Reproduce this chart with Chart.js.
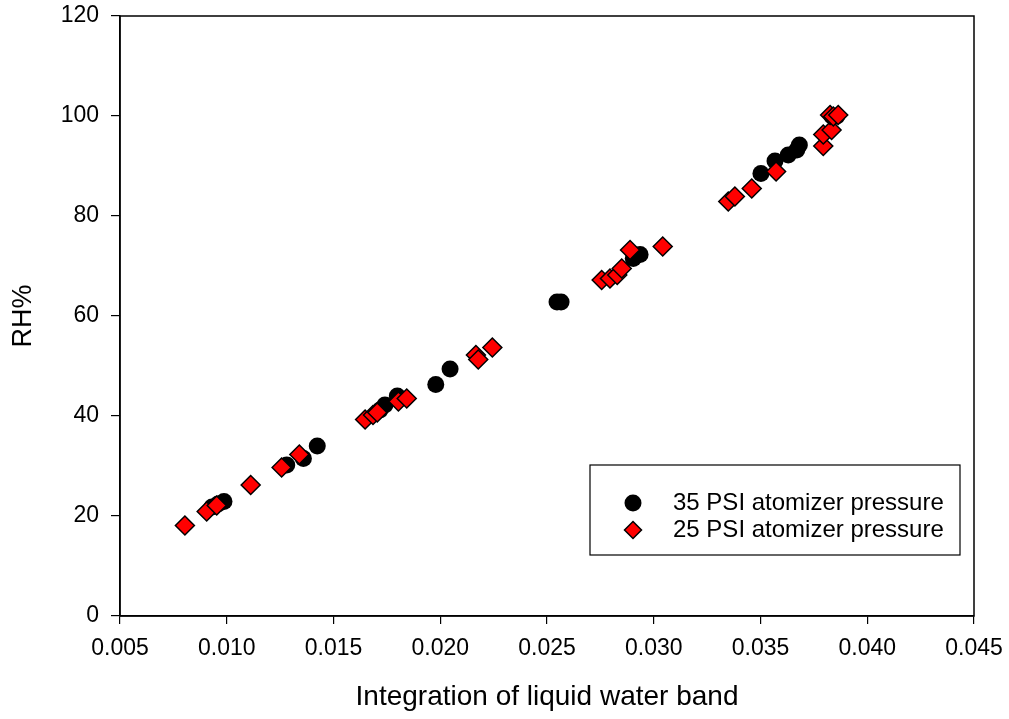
<!DOCTYPE html>
<html>
<head>
<meta charset="utf-8">
<script src="https://cdn.jsdelivr.net/npm/chart.js@4/dist/chart.umd.min.js"></script>
<style>
  html, body { margin: 0; padding: 0; background: #fff; }
  #wrap { width: 1009px; height: 719px; }
</style>
</head>
<body>
<div id="wrap"><canvas id="c" width="1009" height="719"></canvas></div>
<script>
// ---- Data ----
const seriesNames = ["35 PSI atomizer pressure", "25 PSI atomizer pressure"];

const psi35X = [0.00931, 0.00959, 0.00987, 0.01281, 0.01359, 0.01424, 0.01718, 0.01741, 0.01799,
                0.01979, 0.02046, 0.02547, 0.02566, 0.02904, 0.02936, 0.03502, 0.03568, 0.03630,
                0.03670, 0.03682, 0.03834, 0.03858];
const psi35Y = [21.8, 22.4, 22.9, 30.2, 31.5, 34.0, 41.2, 42.2, 44.0,
                46.3, 49.4, 62.8, 62.8, 71.5, 72.3, 88.5, 91.0, 92.2,
                93.2, 94.2, 100.0, 100.0];

const psi25X = [0.00804, 0.00906, 0.00953, 0.01112, 0.01257, 0.01340, 0.01648, 0.01685, 0.01705,
                0.01804, 0.01843, 0.02167, 0.02178, 0.02244, 0.02756, 0.02795, 0.02829, 0.02850,
                0.02889, 0.03042, 0.03349, 0.03380, 0.03459, 0.03573, 0.03794, 0.03794, 0.03833,
                0.03826, 0.03841, 0.03864];
const psi25Y = [18.1, 20.9, 22.1, 26.2, 29.7, 32.3, 39.3, 40.2, 40.7,
                42.9, 43.5, 52.2, 51.3, 53.7, 67.2, 67.5, 68.2, 69.5,
                73.2, 73.9, 82.9, 83.9, 85.5, 88.9, 94.0, 96.3, 97.2,
                100.2, 99.9, 100.2];

const xTickValues = [0.005, 0.010, 0.015, 0.020, 0.025, 0.030, 0.035, 0.040, 0.045];
const yTickValues = [0, 20, 40, 60, 80, 100, 120];
const xTitle = "Integration of liquid water band";
const yTitle = "RH%";

// ---- Build ----
const toPts = (xs, ys) => xs.map((x, i) => ({ x: x, y: ys[i] }));
const FONT = '"Liberation Sans", Arial, Helvetica, sans-serif';
Chart.defaults.font.family = FONT;
Chart.defaults.color = '#000';

function drawMarker(ctx, style, x, y, r, fill, stroke, bw) {
  ctx.save();
  ctx.beginPath();
  if (style === 'circle') {
    ctx.arc(x, y, r, 0, Math.PI * 2);
  } else {
    ctx.moveTo(x, y - r); ctx.lineTo(x + r, y); ctx.lineTo(x, y + r); ctx.lineTo(x - r, y); ctx.closePath();
  }
  ctx.fillStyle = fill; ctx.fill();
  if (bw > 0) { ctx.lineWidth = bw; ctx.strokeStyle = stroke; ctx.stroke(); }
  ctx.restore();
}

const framePlugin = {
  id: 'frame',
  afterDraw(chart) {
    const { ctx, chartArea: a } = chart;
    ctx.save();
    ctx.strokeStyle = '#000';
    ctx.lineWidth = 1.5;
    ctx.strokeRect(a.left, a.top, a.right - a.left, a.bottom - a.top);
    // legend box
    const bx = a.left + 470, by = a.top + 449, bw = 370, bh = 90;
    ctx.lineWidth = 1.2;
    ctx.fillStyle = '#fff';
    ctx.fillRect(bx, by, bw, bh);
    ctx.strokeRect(bx, by, bw, bh);
    const ds = chart.data.datasets;
    [0, 1].forEach((k, i) => {
      const d = ds[k];
      const cy = by + 38 + i * 27;
      drawMarker(ctx, d.pointStyle, bx + 43, cy, 8.5, d.backgroundColor, d.borderColor, d.borderWidth);
      ctx.fillStyle = '#000';
      ctx.font = '24px ' + FONT;
      ctx.textBaseline = 'middle';
      ctx.textAlign = 'left';
      ctx.fillText(d.label, bx + 83, cy);
    });
    ctx.restore();
  }
};

new Chart(document.getElementById('c'), {
  type: 'scatter',
  data: {
    datasets: [
      {
        label: seriesNames[0],
        data: toPts(psi35X, psi35Y),
        pointStyle: 'circle',
        pointRadius: 8.5,
        pointHoverRadius: 8.5,
        backgroundColor: '#000000',
        borderColor: '#000000',
        borderWidth: 0,
        order: 2
      },
      {
        label: seriesNames[1],
        data: toPts(psi25X, psi25Y),
        pointStyle: 'rectRot',
        pointRadius: 9.5,
        pointHoverRadius: 9.5,
        backgroundColor: '#ff0000',
        borderColor: '#000000',
        borderWidth: 1.5,
        order: 1
      }
    ]
  },
  options: {
    responsive: false,
    animation: false,
    devicePixelRatio: 1,
    layout: { padding: { top: 16, right: 35, left: 0, bottom: 0 } },
    plugins: {
      legend: { display: false },
      tooltip: { enabled: false }
    },
    scales: {
      x: {
        type: 'linear',
        min: 0.005, max: 0.045,
        afterBuildTicks: (s) => { s.ticks = xTickValues.map(v => ({ value: v })); },
        afterFit: (s) => { s.height = 103; s.paddingLeft = 0; s.paddingRight = 0; },
        ticks: {
          font: { size: 23 },
          color: '#000',
          padding: 11,
          maxRotation: 0,
          callback: (v) => Number(v).toFixed(3)
        },
        grid: { display: true, drawOnChartArea: false, drawTicks: true, tickLength: 8, color: '#000', lineWidth: 1.2 },
        border: { display: true, color: '#000', width: 1.5 },
        title: { display: true, text: xTitle, font: { size: 28 }, color: '#000', padding: { top: 0, bottom: 5 } }
      },
      y: {
        type: 'linear',
        min: 0, max: 120,
        afterBuildTicks: (s) => { s.ticks = yTickValues.map(v => ({ value: v })); },
        afterFit: (s) => { s.width = 120; s.paddingTop = 0; s.paddingBottom = 0; },
        ticks: {
          font: { size: 23 },
          color: '#000',
          padding: 12,
          callback: (v) => String(v)
        },
        grid: { display: true, drawOnChartArea: false, drawTicks: true, tickLength: 9, color: '#000', lineWidth: 1.2 },
        border: { display: true, color: '#000', width: 1.5 },
        title: { display: true, text: yTitle, font: { size: 27 }, color: '#000', padding: { top: 7, bottom: 0 } }
      }
    }
  },
  plugins: [framePlugin]
});
</script>
</body>
</html>
